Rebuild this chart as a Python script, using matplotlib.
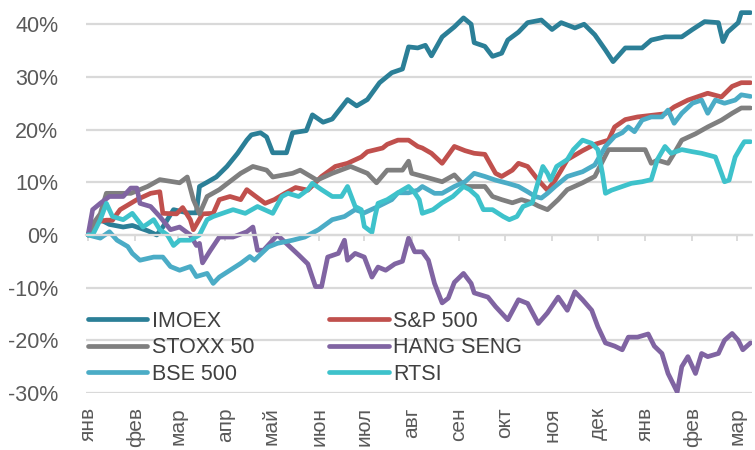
import matplotlib
matplotlib.use("Agg")
import matplotlib.pyplot as plt
import matplotlib.transforms as mtransforms
import pandas as pd

plt.rcParams['font.family'] = ['Liberation Sans', 'DejaVu Sans']

start_date = '2023-01-01'

# ---- data: (day offset from start, % change) ----
imoex_days = [0, 3, 8, 14, 23, 29, 39, 45, 49, 56, 65, 71, 73, 78, 84, 91, 98, 104, 107, 113, 117, 121, 130, 134, 143, 147, 154, 160, 170, 176, 183, 191, 199, 206, 210, 216, 221, 225, 232, 240, 246, 251, 253, 260, 265, 271, 275, 282, 288, 297, 304, 310, 319, 325, 332, 339, 344, 352, 363, 369, 378, 389, 396, 404, 413, 416, 419, 426, 428, 434]
imoex_vals = [0, 1.5, 2.9, 2, 1.5, 1.8, 0.8, 0, 1.5, 4.8, 4.2, 4.2, 9.2, 10, 11, 13, 15.5, 18, 19, 19.4, 18.6, 15.6, 15.6, 19.4, 19.8, 22.8, 21.4, 22, 25.7, 24.5, 25.7, 28.9, 30.8, 31.5, 35.7, 35.5, 36, 34, 37.6, 39.5, 41.2, 40, 36.5, 35.8, 33.9, 34.5, 37, 38.5, 40.3, 40.8, 39, 40.3, 39.3, 40, 38, 35.1, 32.9, 35.5, 35.5, 37, 37.6, 37.6, 39, 40.5, 40.3, 36.7, 38.5, 40.3, 42.2, 42.2]

sp500_days = [0, 6, 12, 16, 21, 32, 41, 47, 49, 58, 62, 67, 69, 75, 82, 86, 93, 100, 104, 109, 116, 122, 129, 136, 144, 153, 162, 170, 179, 183, 193, 196, 203, 210, 216, 219, 225, 232, 240, 247, 253, 260, 267, 271, 278, 282, 288, 295, 301, 306, 310, 314, 324, 332, 341, 345, 352, 360, 369, 378, 384, 393, 399, 406, 415, 422, 428, 434]
sp500_vals = [0, 2.5, 2.8, 2.8, 4.8, 6.7, 7.9, 8.2, 4.1, 4, 5.2, 2.9, 1, 4, 4.1, 6.7, 7.3, 6.7, 8.6, 7.5, 6, 6.7, 7.9, 9, 8.5, 11.1, 13, 13.6, 14.8, 15.8, 16.5, 17.2, 18, 18, 16.8, 16.5, 15.5, 13.6, 16.8, 16, 15.5, 15.3, 11.7, 11.1, 12.3, 13.6, 13, 10.4, 8.5, 10.4, 12.3, 14.3, 16, 17.2, 18, 20.5, 21.9, 22.4, 22.7, 23, 24.3, 25.6, 26.2, 26.9, 26.2, 28.2, 28.9, 28.9]

stoxx_days = [0, 3, 8, 12, 28, 39, 47, 60, 65, 69, 73, 78, 86, 100, 108, 117, 121, 134, 139, 150, 160, 172, 183, 189, 196, 206, 210, 212, 221, 232, 240, 247, 253, 260, 265, 271, 278, 284, 291, 295, 301, 308, 314, 324, 332, 341, 350, 358, 365, 369, 373, 380, 384, 389, 398, 406, 415, 422, 428, 434]
stoxx_vals = [0, 2, 4, 7.9, 7.9, 9.2, 10.5, 9.9, 11, 6.7, 4, 7.3, 8.6, 11.7, 13, 12.3, 11, 11.7, 12.3, 10.4, 11.7, 13, 11.7, 9.9, 12.3, 12.3, 14, 11.7, 11, 10.1, 11.4, 9.2, 9.2, 9.2, 7.3, 6.7, 6.1, 6.7, 6.1, 5.5, 4.8, 6.7, 8.6, 9.9, 11.1, 16.2, 16.2, 16.2, 16.2, 13.6, 14.2, 13.6, 15.5, 18, 19.2, 20.5, 21.8, 23.1, 24.1, 24.1]

hsi_days = [0, 3, 8, 14, 23, 28, 32, 34, 41, 47, 54, 60, 67, 71, 73, 75, 80, 86, 95, 104, 108, 111, 115, 121, 124, 131, 138, 144, 149, 153, 157, 164, 168, 170, 175, 181, 186, 190, 195, 201, 206, 210, 214, 219, 223, 227, 232, 236, 240, 246, 251, 253, 262, 267, 275, 282, 288, 295, 301, 308, 314, 319, 324, 330, 334, 339, 345, 350, 354, 360, 367, 371, 376, 380, 386, 389, 393, 398, 402, 406, 413, 417, 422, 426, 429, 434]
hsi_vals = [0, 4.8, 6, 7.3, 7.3, 8.9, 8.9, 6, 5.4, 3.5, 1, 1.5, 0, -2, -1.6, -5.3, -3, -0.4, -0.4, 0.6, 1.5, -2.9, -2.9, -1, 0, -1.9, -3.8, -5.5, -9.8, -9.8, -4.2, -3.5, -1, -4.8, -3.5, -4.2, -8, -6.1, -6.7, -5.5, -5, -0.6, -3.2, -3.2, -4.8, -9.2, -12.9, -12, -9, -7.3, -9.2, -11, -11.8, -13.6, -16.1, -12.3, -13, -16.8, -14.8, -11.8, -14.3, -10.8, -12.3, -14.3, -17.4, -20.5, -21.1, -21.8, -19.4, -19.4, -18.8, -21.1, -22.5, -26.3, -29.8, -25, -23.1, -26.3, -22.5, -23.1, -22.5, -20, -18.7, -20, -21.8, -20.5]

bse_days = [0, 8, 14, 19, 26, 29, 34, 43, 49, 54, 60, 67, 71, 78, 82, 86, 93, 100, 106, 109, 118, 124, 134, 142, 151, 160, 168, 175, 181, 190, 199, 203, 210, 216, 219, 227, 232, 240, 247, 253, 260, 267, 275, 282, 288, 293, 297, 301, 306, 314, 324, 332, 339, 345, 350, 354, 358, 363, 369, 376, 380, 384, 389, 396, 402, 406, 411, 417, 424, 428, 434]
bse_vals = [0, -0.6, 0.6, -1, -2.2, -3.5, -4.8, -4.2, -4.2, -6, -6.7, -6, -7.9, -7.3, -9.2, -8, -6.7, -5.4, -4.1, -4.8, -2.3, -1.6, -1, -0.4, 1, 2.9, 3.5, 4.8, 4.2, 5.4, 6.7, 8, 8, 8.5, 9.2, 7.9, 7.9, 9.2, 10.1, 11.7, 11.1, 10.4, 9.8, 9.2, 8.2, 7.3, 7, 7.9, 9.2, 11.1, 12, 13.3, 16.8, 18.7, 19.4, 20.5, 19.6, 21.8, 22.4, 22.4, 23.7, 21.2, 23.1, 25, 25.6, 23.1, 25.6, 25, 25.6, 26.6, 26.3]

rtsi_days = [0, 3, 8, 12, 16, 23, 29, 36, 43, 47, 52, 56, 60, 67, 73, 78, 82, 88, 95, 103, 111, 121, 127, 131, 138, 144, 147, 153, 160, 166, 170, 175, 179, 181, 186, 188, 190, 196, 203, 210, 214, 217, 219, 226, 232, 239, 246, 250, 255, 259, 265, 272, 276, 281, 285, 291, 294, 298, 301, 303, 307, 314, 318, 324, 330, 334, 337, 339, 343, 350, 356, 363, 369, 373, 378, 382, 389, 396, 402, 411, 415, 417, 420, 424, 428, 430, 434]
rtsi_vals = [0, 0, 2.9, 6, 3.5, 2.9, 4.1, 1.5, 2.9, 1, 0, -2, -1, -1, 0, 2.9, 3.5, 4.1, 4.8, 4.1, 5.4, 4.1, 7.3, 7.9, 7.3, 8.6, 9.8, 8.6, 7.3, 7.3, 9.2, 5.4, 4.8, 1.6, 0.5, 3.5, 6, 6.7, 8, 9.2, 8, 6.7, 4.1, 4.8, 6.1, 7.3, 9.2, 8.6, 7.3, 4.8, 4.8, 3.5, 2.9, 3.5, 5.4, 6.1, 9.2, 13, 11.7, 10.4, 13, 14.3, 16.2, 18, 17.4, 16.2, 11.7, 7.9, 8.5, 9.2, 9.8, 10.1, 10.5, 14.3, 16.8, 15.5, 16.2, 15.8, 15.5, 14.8, 11.7, 10.1, 10.4, 14.8, 16.8, 17.7, 17.7]

series = [
    ('IMOEX', imoex_days, imoex_vals, '#2B7F97'),
    ('S&P 500', sp500_days, sp500_vals, '#C0504D'),
    ('STOXX 50', stoxx_days, stoxx_vals, '#7F7F7F'),
    ('HANG SENG', hsi_days, hsi_vals, '#8064A2'),
    ('BSE 500', bse_days, bse_vals, '#4BACC6'),
    ('RTSI', rtsi_days, rtsi_vals, '#3EC2CB'),
]

month_labels = ['янв', 'фев', 'мар', 'апр', 'май', 'июн', 'июл', 'авг',
                'сен', 'окт', 'ноя', 'дек', 'янв', 'фев', 'мар']
y_ticks = [-30, -20, -10, 0, 10, 20, 30, 40]

# ---- figure ----
fig = plt.figure(figsize=(7.55, 4.5), dpi=100)
ax = fig.add_axes([0.114, 0.1267, 0.882, 0.8733])

t0 = pd.Timestamp(start_date)
lines = {}
for name, days, vals, color in series:
    dates = t0 + pd.to_timedelta(days, unit='D')
    ln, = ax.plot(dates, vals, color=color, lw=3.4, solid_joinstyle='round',
                  solid_capstyle='round', label=name)
    lines[name] = ln

ax.set_ylim(-30, 44.6)
ax.set_xlim(t0 - pd.Timedelta(days=1.3), t0 + pd.Timedelta(days=435))

grid_c = '#D9D9D9'
ax.set_yticks(y_ticks)
ax.set_yticklabels([f'{v}%' for v in y_ticks])
ax.yaxis.grid(True, color=grid_c, lw=1.6)
ax.set_axisbelow(True)
ax.tick_params(axis='y', length=0, pad=20, labelsize=15.5, labelcolor='#595959')

for s in ['top', 'right', 'left']:
    ax.spines[s].set_visible(False)
ax.spines['bottom'].set_position(('data', 0))
ax.spines['bottom'].set_color(grid_c)
ax.spines['bottom'].set_linewidth(1.6)

month_dates = pd.date_range(start_date, periods=len(month_labels), freq='MS')
ax.set_xticks(month_dates)
ax.tick_params(axis='x', direction='out', length=4.5, width=1.3, color=grid_c,
               labelbottom=False)

trans = mtransforms.blended_transform_factory(ax.transData, ax.transAxes)
for d, lab in zip(month_dates, month_labels):
    ax.text(d, -0.036, lab, transform=trans, rotation=90, ha='center', va='top',
            fontsize=15, color='#595959')

order = ['IMOEX', 'STOXX 50', 'BSE 500', 'S&P 500', 'HANG SENG', 'RTSI']
leg = ax.legend([lines[n] for n in order], order, ncol=2, frameon=False,
                loc='upper left', bbox_to_anchor=(88 / 755, 1 - 311 / 450),
                bbox_transform=fig.transFigure, borderpad=0, borderaxespad=0,
                fontsize=15.5, handlelength=2.75, handletextpad=0.2,
                labelspacing=0.25, columnspacing=3.5)
for t in leg.get_texts():
    t.set_color('#404040')

fig.savefig('out.png', dpi=100)
